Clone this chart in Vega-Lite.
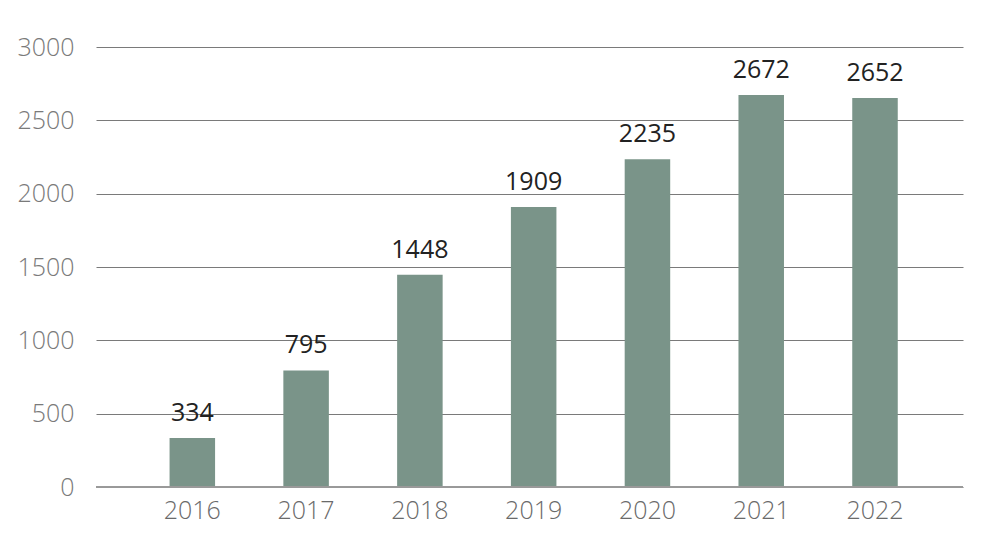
{
  "$schema": "https://vega.github.io/schema/vega-lite/v6.json",
  "width": 867,
  "height": 440,
  "autosize": {"type": "none"},
  "padding": {"left": 96, "top": 47, "right": 37, "bottom": 66},
  "background": "white",
  "config": {"view": {"stroke": null}},
  "data": {"values": [
    {"year": "2016", "value": 334},
    {"year": "2017", "value": 795},
    {"year": "2018", "value": 1448},
    {"year": "2019", "value": 1909},
    {"year": "2020", "value": 2235},
    {"year": "2021", "value": 2672},
    {"year": "2022", "value": 2652}
  ]},
  "encoding": {
    "x": {"field": "year", "type": "nominal", "sort": null,
      "scale": {"paddingInner": 0.6, "paddingOuter": 0.61, "align": 0.53},
      "axis": {"title": null, "labelAngle": 0, "ticks": false, "domain": false, "grid": false,
        "labelFont": "Open Sans", "labelFontWeight": 300, "labelFontSize": 25, "labelColor": "#6a6a6a", "labelPadding": 11}},
    "y": {"field": "value", "type": "quantitative",
      "scale": {"domain": [0, 3000], "nice": false},
      "axis": {"title": null, "values": [0, 500, 1000, 1500, 2000, 2500, 3000], "format": "d", "ticks": false, "domain": false,
        "gridColor": "#7a7a7a", "gridWidth": 1, "gridOpacity": 1,
        "labelFont": "Open Sans", "labelFontWeight": 300, "labelFontSize": 25, "labelColor": "#7a7a7a", "labelPadding": 22}}
  },
  "layer": [
    {"mark": {"type": "bar", "color": "#7a9489"}},
    {"mark": {"type": "rule", "color": "#9a9a9a", "strokeWidth": 1.5}, "encoding": {"y": {"datum": 0}, "x": null}},
    {"mark": {"type": "text", "baseline": "alphabetic", "dy": -17, "font": "Open Sans", "fontSize": 25, "color": "#222222"},
      "encoding": {"text": {"field": "value", "type": "quantitative", "format": "d"}}}
  ]
}
